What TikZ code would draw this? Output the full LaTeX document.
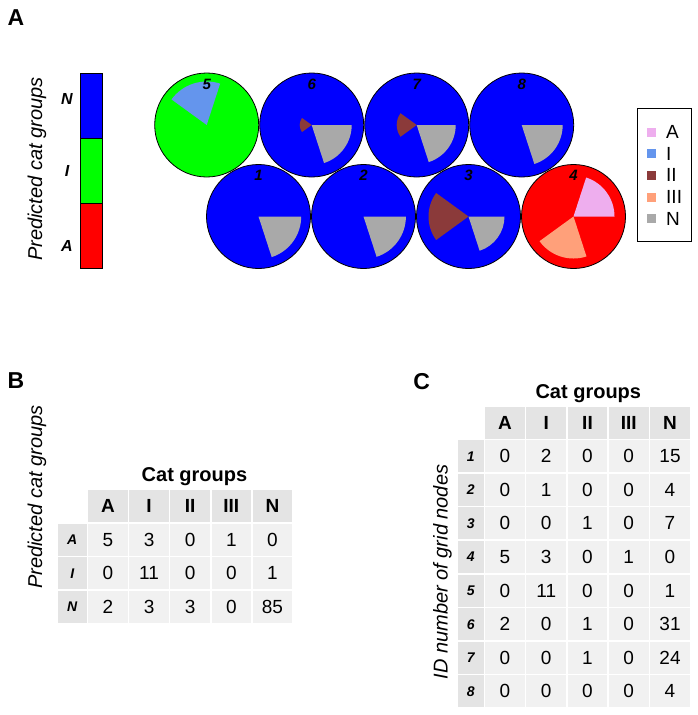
\documentclass[tikz,border=0pt]{standalone}
\usepackage{fontspec}
\setmainfont{Liberation Sans}
\definecolor{cA}{HTML}{EEAEEE}
\definecolor{cI}{HTML}{6495ED}
\definecolor{cII}{HTML}{8B3A3A}
\definecolor{cIII}{HTML}{FFA07A}
\definecolor{cN}{HTML}{A9A9A9}
\definecolor{hdr}{HTML}{E4E4E4}
\definecolor{cellc}{HTML}{F1F1F1}
\newcommand{\pieseg}[5]{\fill[#1] (#2) -- ++(#3:#5) arc[start angle=#3, end angle=#4, radius=#5] -- cycle;}
\tikzset{
  unit/.style={circle, draw=black, line width=0.8pt, minimum size=104pt, inner sep=0pt},
  unitnum/.style={font=\fontsize{15}{15}\selectfont\bfseries\itshape, inner sep=0pt},
  panel/.style={font=\fontsize{23}{23}\selectfont\bfseries, inner sep=0pt},
  axislab/.style={font=\fontsize{20}{20}\selectfont\itshape, inner sep=0pt, rotate=90},
  title/.style={font=\fontsize{20}{20}\selectfont\bfseries, inner sep=0pt},
  hcell/.style={fill=hdr, minimum width=39.6pt, minimum height=32pt, inner sep=0pt, anchor=north west, font=\fontsize{19}{19}\selectfont\bfseries},
  rcell/.style={fill=hdr, minimum height=32pt, inner sep=0pt, anchor=north west, font=\fontsize{14}{14}\selectfont\bfseries\itshape},
  dcell/.style={fill=cellc, minimum width=39.6pt, minimum height=32pt, inner sep=0pt, anchor=north west, font=\fontsize{19}{19}\selectfont},
  barlab/.style={font=\fontsize{16}{16}\selectfont\bfseries\itshape, inner sep=0pt},
  legsq/.style={minimum size=9pt, inner sep=0pt},
  leglab/.style={font=\fontsize{19}{19}\selectfont, inner sep=0pt, anchor=west}
}
\begin{document}
\begin{tikzpicture}[x=1pt,y=1pt]
\useasboundingbox (0,0) rectangle (698,-715);
% ---------------- Panel A ----------------
\node[panel] (pA) at (16,-17.7) {A};
\node[axislab] (ylabA) at (37,-169) {Predicted cat groups};
\node[draw=black, line width=0.8pt, fill=blue, minimum width=22pt, minimum height=65pt, inner sep=0pt, anchor=north west] (barN) at (80,-73) {};
\node[draw=black, line width=0.8pt, fill=green, minimum width=22pt, minimum height=65pt, inner sep=0pt, anchor=north west] (barI) at (80,-138) {};
\node[draw=black, line width=0.8pt, fill=red, minimum width=22pt, minimum height=65pt, inner sep=0pt, anchor=north west] (barA) at (80,-203) {};
\node[barlab] (blN) at (67,-99) {N};
\node[barlab] (blI) at (67,-170.5) {I};
\node[barlab] (blA) at (67,-246) {A};
% units
\node[unit, fill=green] (u5) at (206.7,-125) {};
\node[unit, fill=blue] (u6) at (311.7,-125) {};
\node[unit, fill=blue] (u7) at (416.7,-125) {};
\node[unit, fill=blue] (u8) at (521.7,-125) {};
\node[unit, fill=blue] (u1) at (258.5,-216.5) {};
\node[unit, fill=blue] (u2) at (363.5,-216.5) {};
\node[unit, fill=blue] (u3) at (468.5,-216.5) {};
\node[unit, fill=red] (u4) at (573.5,-216.5) {};
% segments
\pieseg{cI}{u5.center}{72}{144}{43.5}
\pieseg{cII}{u6.center}{144}{216}{12}
\pieseg{cN}{u6.center}{-72}{0}{40}
\pieseg{cII}{u7.center}{144}{216}{20}
\pieseg{cN}{u7.center}{-72}{0}{39}
\pieseg{cN}{u8.center}{-72}{0}{41}
\pieseg{cN}{u1.center}{-72}{0}{42.7}
\pieseg{cN}{u2.center}{-72}{0}{42.4}
\pieseg{cII}{u3.center}{144}{216}{40}
\pieseg{cN}{u3.center}{-72}{0}{36}
\pieseg{cA}{u4.center}{0}{72}{41}
\pieseg{cIII}{u4.center}{216}{288}{42}
% unit numbers
\foreach \u in {5,6,7,8,1,2,3,4}{
  \node[unitnum] (n\u) at ([yshift=41pt]u\u.center) {\u};
}
% legend
\node[draw=black, line width=0.8pt, minimum width=54pt, minimum height=133.3pt, inner sep=0pt, anchor=north west] (leg) at (636.7,-107.7) {};
\foreach \c/\l/\y [count=\k] in {cA/A/132, cI/I/153.7, cII/II/175.3, cIII/III/197, cN/N/218.7}{
  \node[legsq, fill=\c] (lsq\k) at (651.5,-\y) {};
  \node[leglab] (llb\k) at (666,-\y) {\l};
}
% ---------------- Panel B ----------------
\node[panel] (pB) at (16,-381) {B};
\node[axislab] (ylabB) at (37,-497) {Predicted cat groups};
\node[title] (tB) at (194.5,-477) {Cat groups};
\foreach \h [count=\i] in {A,I,II,III,N}{
  \node[hcell] (bh\i) at ({88+41.1*(\i-1)},-490) {\h};
}
\foreach \rl/\vals [count=\r] in {A/{5,3,0,1,0}, I/{0,11,0,0,1}, N/{2,3,3,0,85}}{
  \node[rcell, minimum width=29pt] (br\r) at (57.5,{-490-33.5*\r}) {\rl};
  \foreach \v [count=\c] in \vals {
    \node[dcell] (b\r-\c) at ({88+41.1*(\c-1)},{-490-33.5*\r}) {\v};
  }
}
% ---------------- Panel C ----------------
\node[panel] (pC) at (421.7,-381.7) {C};
\node[axislab] (ylabC) at (442.5,-572) {ID number of grid nodes};
\node[title] (tC) at (588.3,-393.3) {Cat groups};
\foreach \h [count=\i] in {A,I,II,III,N}{
  \node[hcell] (ch\i) at ({485+41.25*(\i-1)},-406.5) {\h};
}
\foreach \rl/\vals [count=\r] in {1/{0,2,0,0,15}, 2/{0,1,0,0,4}, 3/{0,0,1,0,7}, 4/{5,3,0,1,0}, 5/{0,11,0,0,1}, 6/{2,0,1,0,31}, 7/{0,0,1,0,24}, 8/{0,0,0,0,4}}{
  \node[rcell, minimum width=25.6pt] (cr\r) at (457.7,{-406.4-33.6*\r}) {\rl};
  \foreach \v [count=\c] in \vals {
    \node[dcell] (c\r-\c) at ({485+41.25*(\c-1)},{-406.4-33.6*\r}) {\v};
  }
}
\end{tikzpicture}
\end{document}
